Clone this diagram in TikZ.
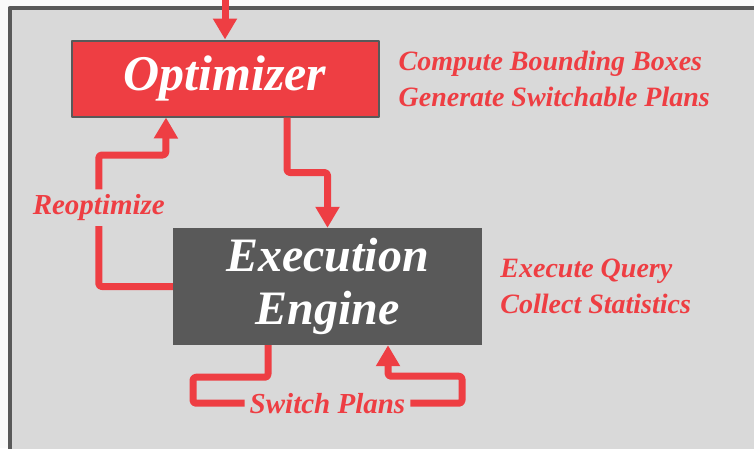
\documentclass[tikz,border=0pt]{standalone}
\usepackage{fontspec}
\setmainfont{Liberation Serif}
\usetikzlibrary{arrows.meta,positioning}
\definecolor{paper}{RGB}{250,250,250}
\definecolor{panel}{RGB}{217,217,217}
\definecolor{frame}{RGB}{89,89,89}
\definecolor{hot}{RGB}{238,62,67}
\definecolor{engine}{RGB}{89,89,89}

\begin{document}
\begin{tikzpicture}[x=1pt, y=-1pt, line join=round,
  stage/.style={rectangle, inner sep=0pt, text=white,
    font=\fontsize{48}{53}\selectfont\bfseries\itshape},
  flow/.style={hot, line width=7pt, line cap=butt, rounded corners=3pt,
    -{Triangle[width=23pt, length=21pt]}},
  note/.style={hot, inner sep=0pt, align=left,
    font=\fontsize{28}{36}\selectfont\bfseries\itshape},
  gap/.style={hot, fill=panel, inner sep=5pt,
    font=\fontsize{29}{32}\selectfont\bfseries\itshape}]

  %========= page and panel =========
  \path[use as bounding box, fill=paper] (0,0) rectangle (754,448);
  \clip (0,0) rectangle (754,448);
  \draw[frame, line width=4pt, fill=panel] (9.5,8) rectangle (780,470);

  %========= stages =========
  \node[stage, fill=hot, draw=frame, line width=2pt,
        minimum width=307pt, minimum height=76pt] (opt) at (225,78.5) {\fontsize{50}{53}\selectfont Optimizer};
  \node[stage, fill=engine, align=center,
        minimum width=309pt, minimum height=117pt] (exec) at (327.5,286.5) {Execution\\Engine};

  %========= side notes =========
  \node[note, right=19pt of opt]  (optnote)  {Compute Bounding Boxes\\Generate Switchable Plans};
  \node[note, right=18pt of exec] (execnote) {Execute Query\\Collect Statistics};

  %========= connectors =========
  \coordinate (feed) at (225,-5);
  \draw[flow] (feed) -- (opt.north);
  \draw[flow] ([xshift=62pt]opt.south) -- ++(0,55) -| (exec.north);
  \draw[flow] (exec.west) -- ++(-74,0)
      -- node[gap, pos=0.6] (reopt) {Reoptimize} ++(0,-131.5)
      -- ++(67,0) -- ([xshift=-59pt]opt.south);
  \draw[flow] ([xshift=-59.5pt]exec.south) -- ++(0,32) -- ++(-75,0) -- ++(0,26)
      -- node[gap] (switch) {Switch Plans} ++(269,0)
      -- ++(0,-27) -- ++(-74,0) -- ([xshift=60.5pt]exec.south);
\end{tikzpicture}
\end{document}
